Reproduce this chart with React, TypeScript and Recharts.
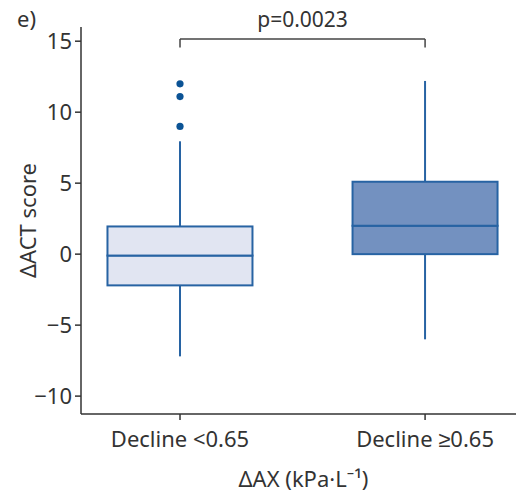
import React from "react"
import {
  ComposedChart,
  Bar,
  Scatter,
  XAxis,
  YAxis,
  ReferenceLine,
  Label,
} from "recharts"

const groups = ["Decline <0.65", "Decline \u22650.65"]
const positions = [1, 2]
const whiskerLow = [-7.2, -6]
const q1 = [-2.2, 0]
const median = [-0.1, 2]
const q3 = [1.95, 5.1]
const whiskerHigh = [7.95, 12.2]
const boxFills = ["#e1e5f2", "#7391c0"]

const outlierGroup = [1, 1, 1]
const outlierValues = [12, 11.1, 9]

const yTicks = [-10, -5, 0, 5, 10, 15]
const pText = "p=0.0023"

const LINE = "#2763a3"
const TEXT = "#333333"
const FONT = "'Noto Sans', sans-serif"

// stacked deltas so each piece sits at the right height
const data = positions.map((pos, i) => ({
  pos,
  fill: boxFills[i],
  base: whiskerLow[i],
  lowWhisker: q1[i] - whiskerLow[i],
  lowBox: median[i] - q1[i],
  highBox: q3[i] - median[i],
  highWhisker: whiskerHigh[i] - q3[i],
}))

const outliers = outlierValues.map((v, i) => ({ pos: outlierGroup[i], value: v }))

const Whisker = (props: any) => {
  const { x, y, width, height } = props
  const cx = x + width / 2
  return <line x1={cx} x2={cx} y1={y} y2={y + height} stroke={LINE} strokeWidth={2} />
}

const Box = (props: any) => {
  const { x, y, width, height, payload } = props
  const top = Math.min(y, y + height)
  const h = Math.abs(height)
  return (
    <rect x={x} y={top} width={width} height={h} fill={payload.fill} stroke={LINE} strokeWidth={2} />
  )
}

const YLabel = (props: any) => {
  const vb = props.viewBox
  const cx = 27
  const cy = vb.y + vb.height / 2
  return (
    <text
      x={cx}
      y={cy}
      transform={`rotate(-90 ${cx} ${cy})`}
      textAnchor="middle"
      dominantBaseline="central"
      fill={TEXT}
      fontSize={22}
      fontFamily={FONT}
    >
      {"\u0394ACT score"}
    </text>
  )
}

export default function App() {
  return (
    <div style={{ position: "absolute", left: 0, top: 0, width: 517, height: 493, background: "#fff" }}>
      <div
        style={{
          position: "absolute",
          left: 17,
          top: 3,
          fontFamily: FONT,
          fontSize: 22,
          color: TEXT,
        }}
      >
        e)
      </div>
      <ComposedChart
        width={517}
        height={493}
        data={data}
        margin={{ top: 27, right: 1, bottom: 0, left: 0 }}
        style={{ fontFamily: FONT }}
      >
        <XAxis
          dataKey="pos"
          type="number"
          domain={[0.596, 2.371]}
          ticks={positions}
          tickFormatter={(v: number) => groups[positions.indexOf(v)]}
          allowDataOverflow
          height={79}
          tickSize={6}
          tickMargin={11}
          stroke="#333"
          strokeWidth={1.5}
          tick={{ fill: TEXT, fontSize: 22 }}
        >
          <Label
            value={"\u0394AX (kPa\u00b7L\u207b\u00b9)"}
            position="insideBottom"
            offset={6}
            dx={5}
            fill={TEXT}
            fontSize={22}
          />
        </XAxis>
        <YAxis
          type="number"
          domain={[-11.26, 16]}
          ticks={yTicks}
          allowDataOverflow
          width={81}
          tickSize={6}
          tickMargin={3}
          stroke="#333"
          strokeWidth={1.5}
          tickFormatter={(v: number) => (v < 0 ? `\u2212${Math.abs(v)}` : `${v}`)}
          tick={{ fill: TEXT, fontSize: 22 }}
        >
          <Label content={YLabel} />
        </YAxis>
        <Bar dataKey="base" stackId="box" barSize={145} fill="none" isAnimationActive={false} shape={() => <g />} />
        <Bar dataKey="lowWhisker" stackId="box" barSize={145} isAnimationActive={false} shape={Whisker} />
        <Bar dataKey="lowBox" stackId="box" barSize={145} isAnimationActive={false} shape={Box} />
        <Bar dataKey="highBox" stackId="box" barSize={145} isAnimationActive={false} shape={Box} />
        <Bar dataKey="highWhisker" stackId="box" barSize={145} isAnimationActive={false} shape={Whisker} />
        <Scatter data={outliers} dataKey="value" fill="#0b5395" isAnimationActive={false} shape={(p: any) => <circle cx={p.cx} cy={p.cy} r={3.6} fill="#0b5395" />} />
        <ReferenceLine
          segment={[{ x: 1, y: 15.15 }, { x: 2, y: 15.15 }]}
          stroke="#444"
          strokeWidth={1.5}
          label={{ value: pText, position: "top", offset: 12, fill: TEXT, fontSize: 21 }}
        />
        <ReferenceLine segment={[{ x: 1, y: 15.15 }, { x: 1, y: 14.55 }]} stroke="#444" strokeWidth={1.5} />
        <ReferenceLine segment={[{ x: 2, y: 15.15 }, { x: 2, y: 14.55 }]} stroke="#444" strokeWidth={1.5} />
      </ComposedChart>
    </div>
  )
}
